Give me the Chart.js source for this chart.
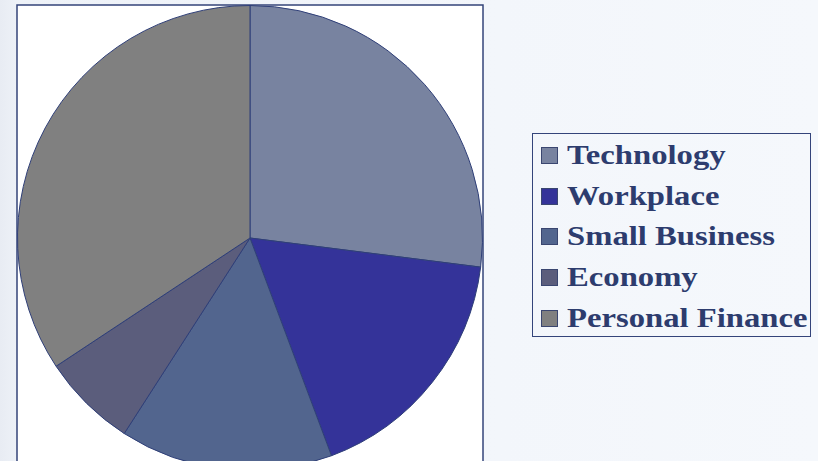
<!DOCTYPE html>
<html>
<head>
  <title>Articles by Topic</title>
  <script src="https://cdn.jsdelivr.net/npm/chart.js"></script>
  <style>
    html, body {
      margin: 0;
      padding: 0;
      width: 818px;
      height: 461px;
      overflow: hidden;
      background: linear-gradient(90deg, #e8ecf3 0px, #eef2f8 20px, #f3f6fb 500px, #f5f8fc 818px);
    }
    #wrap {
      position: absolute;
      left: 0;
      top: 0;
      width: 500px;
      height: 476px;
    }
    #legend {
      position: absolute;
      left: 532px;
      top: 133px;
      width: 279px;
      height: 204px;
      border: 1px solid #34447a;
      box-sizing: border-box;
      padding-top: 1px;
    }
    .item {
      height: 40.7px;
      display: flex;
      align-items: center;
      font-family: "Liberation Serif", "Times New Roman", serif;
      font-weight: bold;
      font-size: 27px;
      color: #2d3c6e;
      white-space: nowrap;
    }
    .item .name {
      display: inline-block;
      transform: scaleX(1.21);
      transform-origin: left center;
    }
    .swatch {
      width: 15px;
      height: 15px;
      border: 1px solid #3a4670;
      margin-left: 8px;
      margin-right: 9px;
      flex: none;
    }
  </style>
</head>
<body>
  <div id="wrap">
    <canvas id="pieChart" width="500" height="476"></canvas>
  </div>
  <div id="legend"></div>

  <script>
    // Share of articles per topic (percent)
    const topics = ['Technology', 'Workplace', 'Small Business', 'Economy', 'Personal Finance'];
    const shares = [27, 17.3, 14.8, 6.6, 34.3];
    const sliceColors = ['#7883a0', '#343399', '#52658e', '#5b5d7c', '#808080'];

    // White panel with a thin navy frame behind the pie
    const panelPlugin = {
      id: 'panel',
      beforeDraw(chart) {
        const ctx = chart.ctx;
        ctx.save();
        ctx.fillStyle = '#ffffff';
        ctx.fillRect(17, 5, 466, 480);
        ctx.strokeStyle = '#34447a';
        ctx.lineWidth = 1.5;
        ctx.strokeRect(17, 5, 466, 480);
        ctx.restore();
      }
    };

    const ctx = document.getElementById('pieChart').getContext('2d');
    const myChart = new Chart(ctx, {
      type: 'pie',
      data: {
        labels: topics,
        datasets: [{
          data: shares,
          backgroundColor: sliceColors,
          borderColor: '#2f3f78',
          borderWidth: 1
        }]
      },
      options: {
        responsive: false,
        animation: false,
        layout: {
          padding: { left: 17, right: 17, top: 5, bottom: 5 }
        },
        plugins: {
          legend: { display: false },
          tooltip: { enabled: false }
        }
      },
      plugins: [panelPlugin]
    });

    // Build the legend next to the chart
    const legend = document.getElementById('legend');
    for (let i = 0; i < topics.length; i++) {
      const row = document.createElement('div');
      row.className = 'item';
      const box = document.createElement('span');
      box.className = 'swatch';
      box.style.background = sliceColors[i];
      const name = document.createElement('span');
      name.className = 'name';
      name.textContent = topics[i];
      row.appendChild(box);
      row.appendChild(name);
      legend.appendChild(row);
    }
  </script>
</body>
</html>
